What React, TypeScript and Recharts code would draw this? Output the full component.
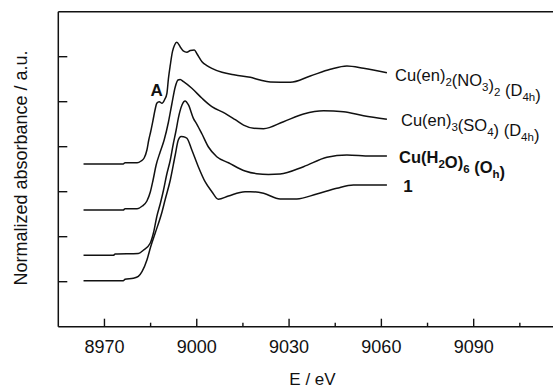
import React from 'react';
import { LineChart, Line, XAxis, YAxis } from 'recharts';

// Energy axis ticks (eV); labels only on the major ones
const xTicks = [8970, 8985, 9000, 9015, 9030, 9045, 9060, 9075, 9090, 9105];
const xMajor = [8970, 9000, 9030, 9060, 9090];
const yTicks = [1, 2, 3, 4, 5, 6];

// Cu(en)2(NO3)2 (D4h)
const no3E = [8963.2, 8976.1, 8976.7, 8980.6, 8981.9, 8982.9, 8983.8, 8984.4, 8985.0, 8985.8, 8986.5, 8987.0, 8987.8, 8988.7, 8989.5, 8990.3, 8990.8, 8991.4, 8992.1, 8992.8, 8993.5, 8994.6, 8995.6, 8996.8, 8997.9, 8999.2, 9000.1, 9001.7, 9003.3, 9004.9, 9008.2, 9012.5, 9017.4, 9020.6, 9023.9, 9030.4, 9036.9, 9043.4, 9048.8, 9054.2, 9061.8];
const no3Abs = [3.616, 3.616, 3.644, 3.644, 3.682, 3.749, 3.927, 4.149, 4.327, 4.593, 4.838, 4.964, 5.0, 4.964, 5.038, 5.187, 5.52, 5.816, 6.111, 6.26, 6.32, 6.222, 6.127, 6.098, 6.138, 6.149, 6.06, 5.889, 5.804, 5.742, 5.653, 5.593, 5.542, 5.482, 5.44, 5.431, 5.571, 5.72, 5.793, 5.742, 5.644];

// Cu(en)3(SO4) (D4h)
const so4E = [8963.2, 8976.1, 8976.7, 8980.6, 8982.3, 8983.8, 8984.9, 8985.8, 8986.8, 8988.1, 8989.4, 8990.8, 8991.9, 8993.0, 8993.9, 8994.6, 8995.7, 8998.4, 9001.7, 9004.9, 9009.2, 9012.5, 9015.2, 9018.5, 9021.7, 9028.2, 9034.7, 9041.2, 9047.7, 9054.2, 9061.8];
const so4Abs = [2.593, 2.593, 2.622, 2.622, 2.682, 2.793, 2.993, 3.26, 3.593, 3.882, 4.149, 4.549, 4.949, 5.327, 5.482, 5.493, 5.444, 5.298, 5.076, 4.889, 4.742, 4.6, 4.48, 4.41, 4.4, 4.556, 4.727, 4.8, 4.778, 4.689, 4.609];

// Cu(H2O)6 (Oh)
const h2oE = [8963.2, 8972.9, 8973.5, 8981.0, 8982.7, 8984.9, 8986.0, 8987.0, 8988.2, 8989.2, 8990.2, 8991.4, 8992.3, 8993.3, 8994.0, 8995.2, 8996.2, 8997.3, 8998.9, 9000.0, 9001.7, 9003.8, 9006.5, 9010.3, 9015.7, 9019.5, 9023.3, 9027.1, 9034.7, 9042.3, 9048.8, 9056.4, 9061.8];
const h2oAbs = [1.587, 1.587, 1.616, 1.627, 1.704, 1.86, 2.104, 2.444, 2.749, 3.038, 3.371, 3.704, 4.038, 4.371, 4.631, 4.927, 5.016, 4.927, 4.631, 4.504, 4.282, 3.993, 3.778, 3.644, 3.46, 3.4, 3.385, 3.393, 3.556, 3.764, 3.816, 3.793, 3.793];

// compound 1
const c1E = [8963.2, 8976.1, 8976.7, 8979.4, 8981.0, 8982.2, 8983.8, 8985.0, 8986.5, 8988.7, 8989.7, 8991.4, 8993.0, 8994.0, 8994.9, 8995.7, 8996.8, 8998.4, 9000.5, 9002.7, 9004.9, 9007.0, 9010.3, 9015.7, 9017.4, 9021.7, 9027.1, 9032.5, 9039.0, 9045.5, 9050.9, 9061.8];
const c1Abs = [1.022, 1.022, 1.053, 1.076, 1.116, 1.222, 1.482, 1.771, 2.082, 2.549, 2.816, 3.26, 3.816, 4.149, 4.227, 4.222, 4.187, 3.927, 3.556, 3.222, 3.0, 2.831, 2.904, 3.0, 3.0, 2.964, 2.838, 2.838, 2.949, 3.076, 3.149, 3.149];

const zip = (e: number[], a: number[]) => e.map((v, i) => ({ e: v, a: a[i] }));

const FONT = '"Liberation Sans", Arial, Helvetica, sans-serif';
const INK = '#111';
const X_DOMAIN = [8955, 9116.1];

// ticks point inwards; majors are longer
const bottomTick = (p: any) => {
  const major = xMajor.includes(p.payload.value);
  return (
    <g>
      <path d={`M${p.x},${p.y}V${p.y - (major ? 8 : 4)}`} stroke={INK} strokeWidth={1.4} />
      {major && (
        <text x={p.x} y={p.y + 26.5} textAnchor="middle" fontSize={18} fontFamily={FONT} fill={INK}>
          {p.payload.value}
        </text>
      )}
    </g>
  );
};

const topTick = (p: any) => {
  const major = xMajor.includes(p.payload.value);
  return <path d={`M${p.x},${p.y}V${p.y + (major ? 7 : 5)}`} stroke={INK} strokeWidth={1.4} />;
};

const leftTick = (p: any) => <path d={`M${p.x},${p.y}H${p.x + 9}`} stroke={INK} strokeWidth={1.4} />;
const rightTick = (p: any) => <path d={`M${p.x},${p.y}H${p.x - 9}`} stroke={INK} strokeWidth={1.4} />;

const sub = (t: string) => (
  <>
    <tspan fontSize={11.5} dy={5}>{t}</tspan>
    <tspan dy={-5}>{''}</tspan>
  </>
);

export default function App() {
  const series = [zip(no3E, no3Abs), zip(so4E, so4Abs), zip(h2oE, h2oAbs), zip(c1E, c1Abs)];
  const axisLine = { stroke: INK, strokeWidth: 1.5 };
  return (
    <div style={{ position: 'absolute', left: 0, top: 0, width: 553, height: 390, overflow: 'hidden', background: '#fff' }}>
      <LineChart width={555} height={390} margin={{ top: 10.7, right: 0, bottom: 0, left: 0 }}>
        <XAxis xAxisId="b" dataKey="e" type="number" domain={X_DOMAIN} ticks={xTicks} height={63.3}
          axisLine={axisLine} tickLine={false} tickSize={0} tickMargin={0} tick={bottomTick} interval={0} />
        <XAxis xAxisId="t" orientation="top" dataKey="e" type="number" domain={X_DOMAIN} ticks={xTicks} height={1}
          axisLine={axisLine} tickLine={false} tickSize={0} tickMargin={0} tick={topTick} interval={0} />
        <YAxis yAxisId="l" type="number" domain={[0, 7]} ticks={yTicks} width={58.3}
          axisLine={axisLine} tickLine={false} tickSize={0} tickMargin={0} tick={leftTick} interval={0} />
        <YAxis yAxisId="r" orientation="right" type="number" domain={[0, 7]} ticks={yTicks} width={1}
          axisLine={axisLine} tickLine={false} tickSize={0} tickMargin={0} tick={rightTick} interval={0} />
        {series.map((d, i) => (
          <Line
            key={i}
            data={d}
            xAxisId="b"
            yAxisId="l"
            dataKey="a"
            type="monotone"
            stroke={INK}
            strokeWidth={1.5}
            dot={false}
            activeDot={false}
            isAnimationActive={false}
          />
        ))}
      </LineChart>
      <svg
        width={553}
        height={390}
        style={{ position: 'absolute', left: 0, top: 0, pointerEvents: 'none' }}
        fontFamily={FONT}
        fill={INK}
      >
        <text x={21} y={168} transform="rotate(-90 21 168)" textAnchor="middle" dy="0.35em" fontSize={18}>
          Normalized absorbance / a.u.
        </text>
        <text x={312.5} y={385} textAnchor="middle" fontSize={17}>
          E / eV
        </text>
        <text x={156.7} y={95.7} textAnchor="middle" fontSize={17} fontWeight="bold">
          A
        </text>
        <text x={395} y={81} fontSize={16.5}>
          Cu(en){sub('2')}(NO{sub('3')}){sub('2')} (D{sub('4h')})
        </text>
        <text x={401} y={126} fontSize={16.5}>
          Cu(en){sub('3')}(SO{sub('4')})  (D{sub('4h')})
        </text>
        <text x={399} y={163.3} fontSize={16.5} fontWeight="bold">
          Cu(H{sub('2')}O){sub('6')} (O{sub('h')})
        </text>
        <text x={403.3} y={191.7} fontSize={17} fontWeight="bold">
          1
        </text>
      </svg>
    </div>
  );
}
